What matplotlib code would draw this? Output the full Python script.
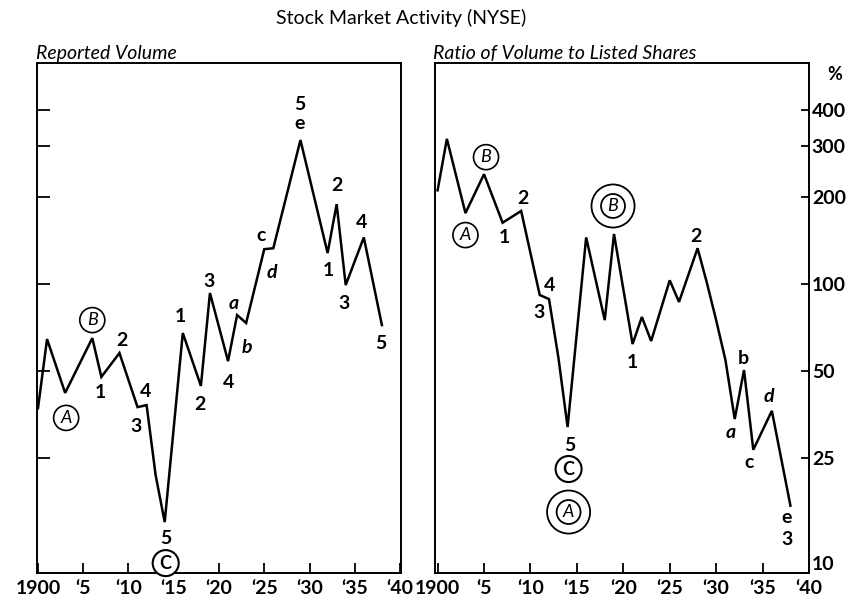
import matplotlib
matplotlib.use("Agg")
import matplotlib.pyplot as plt

plt.rcParams['font.family'] = ['Lato', 'DejaVu Sans']

# ---------------- data ----------------
vol_years = [1900, 1901, 1903, 1906, 1907, 1909, 1911, 1912, 1913, 1914,
             1916, 1918, 1919, 1921, 1922, 1923, 1925, 1926, 1929, 1932,
             1933, 1934, 1936, 1938]
vol_values = [37.2, 64.5, 42.0, 65.0, 47.7, 57.7, 37.5, 38.1, 21.8, 15.0,
              67.7, 44.4, 93.1, 54.1, 78.1, 73.3, 132, 133, 315, 128,
              189, 99.2, 145, 72.1]

ratio_years = [1900, 1901, 1903, 1905, 1907, 1909, 1911, 1912, 1913, 1914,
               1916, 1918, 1919, 1921, 1922, 1923, 1925, 1926, 1928, 1929,
               1930, 1931, 1932, 1933, 1934, 1936, 1938]
ratio_values = [211, 318, 176, 240, 163, 179, 91.6, 88.7, 55.9, 32.0,
                145, 75.0, 149, 62.0, 76.9, 63.5, 103, 86.7, 133, 101,
                75, 54.6, 34.1, 50.4, 26.7, 36.4, 17.1]

x_ticks = [1900, 1905, 1910, 1915, 1920, 1925, 1930, 1935, 1940]
x_tick_labels = ['1900', '\u20185', '\u201810', '\u201815', '\u201820',
                 '\u201825', '\u201830', '\u201835', '\u201840']
y_ticks = [10, 25, 50, 100, 200, 300, 400]
y_tick_labels = ['10', '25', '50', '100', '200', '300', '400']

title = 'Stock Market Activity (NYSE)'
left_title = 'Reported Volume'
right_title = 'Ratio of Volume to Listed Shares'

# wave labels: (year, text, dx px, dy px, style)
vol_labels = [
    (1903, 'A', 1, -25, 'circle'), (1906, 'B', 0, 18, 'circle'),
    (1907, '1', -1, -16, 'plain'), (1909, '2', 2, 13, 'plain'),
    (1911, '3', -2, -19, 'plain'), (1912, '4', -1, 14, 'plain'),
    (1914, '5', 1, -16, 'plain'), (1914, 'C', 1, -41, 'circleC'),
    (1916, '1', -2, 16, 'plain'), (1918, '2', -1, -19, 'plain'),
    (1919, '3', -1, 12, 'plain'), (1921, '4', 0, -21, 'plain'),
    (1922, 'a', -3, 12, 'italic'), (1923, 'b', 1, -24, 'italic'),
    (1925, 'c', -3, 14, 'plain'), (1926, 'd', -1, -24, 'italic'),
    (1929, 'e', -1, 17, 'plain'), (1929, '5', -1, 36, 'plain'),
    (1932, '1', 1, -17, 'plain'), (1933, '2', 0, 19, 'plain'),
    (1934, '3', -2, -18, 'plain'), (1936, '4', -2, 15, 'plain'),
    (1938, '5', -1, -18, 'plain'),
]
ratio_labels = [
    (1903, 'A', 0, -22, 'circle'), (1905, 'B', 2, 17, 'circle'),
    (1907, '1', 2, -15, 'plain'), (1909, '2', 2, 12, 'plain'),
    (1911, '3', -1, -17, 'plain'), (1912, '4', 1, 14, 'plain'),
    (1914, '5', 2, -18, 'plain'), (1914, 'C', 1, -42, 'circleC'),
    (1914, 'A', 1, -85, 'double'), (1919, 'B', -1, 28, 'double'),
    (1921, '1', 0, -18, 'plain'), (1928, '2', -2, 12, 'plain'),
    (1932, 'a', -4, -13, 'italic'), (1933, 'b', -1, 12, 'plain'),
    (1934, 'c', -4, -13, 'plain'), (1936, 'd', -3, 14, 'italic'),
    (1938, 'e', -4, -12, 'plain'), (1938, '3', -3, -34, 'plain'),
]

# ---------------- figure ----------------
W, H = 867, 604
fig = plt.figure(figsize=(W / 100, H / 100), dpi=100)
fig.patch.set_facecolor('white')

ax1 = fig.add_axes([37 / W, 31 / H, 364 / W, 510 / H])
ax2 = fig.add_axes([435 / W, 31 / H, 374 / W, 510 / H])

LW_FRAME = 1.4
for ax in (ax1, ax2):
    ax.set_yscale('log')
    ax.set_ylim(10, 582)
    for s in ax.spines.values():
        s.set_linewidth(LW_FRAME)
        s.set_zorder(2)
    ax.minorticks_off()
    ax.set_xticks(x_ticks)
    ax.set_xticklabels(x_tick_labels)
    ax.tick_params(axis='x', direction='in', length=7, width=1.3,
                   pad=5, labelsize=14, top=False, bottom=True)
    for lab in ax.get_xticklabels():
        lab.set_fontweight('bold')

ax1.set_xlim(1899.89, 1940.11)
ax2.set_xlim(1899.72, 1940.0)

ax1.set_yticks(y_ticks[1:])
ax1.set_yticklabels([])
ax1.tick_params(axis='y', direction='in', length=9.5, width=1.3,
                left=True, right=False, labelleft=False)

ax2.set_yticks(y_ticks)
ax2.set_yticklabels(y_tick_labels)
ax2.tick_params(axis='y', direction='in', length=6, width=1.3,
                left=False, right=True, labelleft=False, labelright=True,
                pad=2, labelsize=14)
for lab in ax2.get_yticklabels():
    lab.set_fontweight('bold')
ax2.get_yticklabels()[0].set_verticalalignment('bottom')

ax1.plot(vol_years, vol_values, color='black', lw=1.8, zorder=3,
         solid_joinstyle='miter')
ax2.plot(ratio_years, ratio_values, color='black', lw=1.8, zorder=3,
         solid_joinstyle='miter')


def put_labels(ax, years, values, labels):
    lookup = dict(zip(years, values))
    for yr, txt, dx, dy, style in labels:
        xy = (yr, lookup[yr])
        kw = dict(xy=xy, xytext=(dx, dy), textcoords='offset pixels',
                  ha='center', va='center', zorder=5,
                  annotation_clip=False)
        if style == 'plain':
            ax.annotate(txt, fontweight='bold', fontsize=14, **kw)
        elif style == 'italic':
            ax.annotate(txt, fontstyle='italic', fontweight='bold',
                        fontsize=14, **kw)
        elif style == 'circle':
            ax.annotate(txt, fontstyle='italic', fontsize=13,
                        bbox=dict(boxstyle='circle,pad=0.25', fc='white',
                                  ec='black', lw=1.2), **kw)
        elif style == 'circleC':
            ax.annotate(txt, fontsize=13, fontweight='bold',
                        bbox=dict(boxstyle='circle,pad=0.25', fc='white',
                                  ec='black', lw=1.5), **kw)
        elif style == 'double':
            ax.annotate(txt, fontstyle='italic', fontsize=13, color='white',
                        bbox=dict(boxstyle='circle,pad=0.75', fc='white',
                                  ec='black', lw=1.3), **kw)
            ax.annotate(txt, fontstyle='italic', fontsize=13,
                        bbox=dict(boxstyle='circle,pad=0.22', fc='none',
                                  ec='black', lw=1.3), **kw)


put_labels(ax1, vol_years, vol_values, vol_labels)
put_labels(ax2, ratio_years, ratio_values, ratio_labels)

# titles
fig.text(401 / W, 1 - 18 / H, title, ha='center', va='center', fontsize=14)
ax1.annotate(left_title, xy=(0, 1), xycoords='axes fraction',
             xytext=(-1, 4), textcoords='offset pixels', ha='left',
             va='baseline', fontsize=14, fontstyle='italic')
ax2.annotate(right_title, xy=(0, 1), xycoords='axes fraction',
             xytext=(-2, 4), textcoords='offset pixels', ha='left',
             va='baseline', fontsize=14, fontstyle='italic')
ax2.annotate('%', xy=(1, 1), xycoords='axes fraction', xytext=(26, -12),
             textcoords='offset pixels', ha='center', va='center',
             fontsize=13, fontweight='bold')

fig.savefig('out.png', dpi=100, facecolor='white')
